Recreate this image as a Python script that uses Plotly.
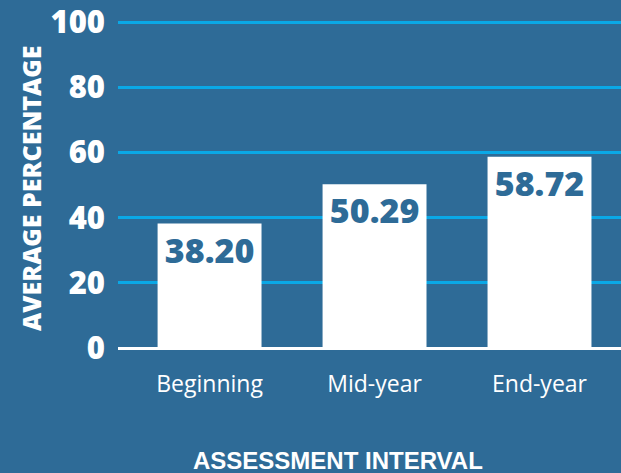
import plotly.graph_objects as go

categories = ["Beginning", "Mid-year", "End-year"]
values = [38.20, 50.29, 58.72]
value_labels = ["38.20", "50.29", "58.72"]
y_ticks = [0, 20, 40, 60, 80, 100]

BG = "#2e6b97"
GRID = "#0aa8e6"

fig = go.Figure(
    go.Bar(
        x=categories,
        y=values,
        text=value_labels,
        textposition="inside",
        insidetextanchor="end",
        textfont=dict(family="Open Sans", size=34, color=BG, weight=800),
        marker=dict(color="white", line=dict(width=0)),
        width=0.63,
        cliponaxis=False,
    )
)

fig.update_layout(
    width=621,
    height=473,
    paper_bgcolor=BG,
    plot_bgcolor=BG,
    margin=dict(l=118, r=0, t=21, b=125),
    showlegend=False,
    uniformtext=dict(minsize=34, mode="show"),
    xaxis=dict(
        range=[-0.555, 2.494],
        showgrid=False,
        zeroline=False,
        showline=False,
        tickfont=dict(family="Open Sans", size=23, color="white"),
        ticks="",
        ticklabelstandoff=20,
        fixedrange=True,
    ),
    yaxis=dict(
        range=[0, 100.4],
        tickvals=y_ticks,
        showgrid=True,
        gridcolor=GRID,
        gridwidth=2.5,
        zeroline=True,
        zerolinecolor="white",
        zerolinewidth=2.5,
        tickfont=dict(family="Open Sans", size=31, color="white", weight=800),
        ticks="",
        ticklabelstandoff=12,
        fixedrange=True,
    ),
    annotations=[
        dict(
            text="ASSESSMENT INTERVAL",
            xref="paper",
            yref="paper",
            x=(338 - 118) / 503,
            y=(473 - 125 - 460) / 326,
            xanchor="center",
            yanchor="middle",
            showarrow=False,
            font=dict(family="Liberation Sans", size=24, color="white", weight="bold"),
        ),
        dict(
            text="AVERAGE PERCENTAGE",
            xref="paper",
            yref="paper",
            x=(31 - 118) / 503,
            y=(348 - 189) / 327,
            xanchor="center",
            yanchor="middle",
            textangle=-90,
            showarrow=False,
            font=dict(family="Open Sans", size=25, color="white", weight=800),
        ),
    ],
)

fig.write_html(
    "out.html",
    config={"displayModeBar": False},
    post_script="document.body.style.margin='0';",
)
